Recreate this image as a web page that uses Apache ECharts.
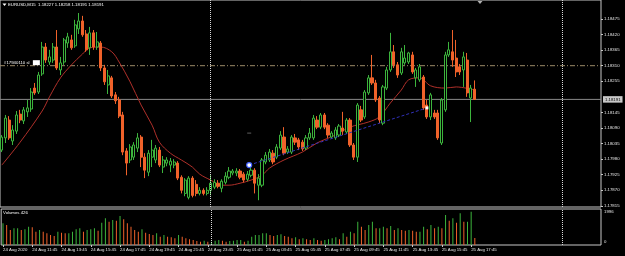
<!DOCTYPE html>
<html><head><meta charset="utf-8">
<script src="https://cdn.jsdelivr.net/npm/echarts@6/dist/echarts.min.js"></script>
<style>html,body{margin:0;padding:0;background:#000;}#c{width:625px;height:256px;}</style>
</head><body><div id="c"></div>
<script>
const symbolName = 'EURUSD,M15';
const opens = [1.18012,1.18055,1.18118,1.18044,1.18079,1.18139,1.18115,1.18147,1.18157,1.18231,
1.18217,1.18281,1.18376,1.18323,1.18330,1.18376,1.18295,1.18323,1.18390,1.18401,
1.18380,1.18440,1.18468,1.18422,1.18373,1.18426,1.18376,1.18390,1.18302,1.18242,
1.18267,1.18207,1.18189,1.18136,1.18009,1.17977,1.17987,1.18019,1.18058,1.17987,
1.17934,1.17987,1.17977,1.18012,1.17952,1.17966,1.17959,1.17959,1.17966,1.17916,
1.17859,1.17845,1.17913,1.17891,1.17859,1.17870,1.17859,1.17870,1.17881,1.17895,
1.17877,1.17898,1.17916,1.17931,1.17931,1.17938,1.17927,1.17909,1.17923,1.17941,
1.17888,1.17888,1.17970,1.17977,1.18001,1.17987,1.18019,1.18058,1.18005,1.18005,
1.18055,1.18048,1.18040,1.18019,1.18055,1.18055,1.18118,1.18093,1.18136,1.18100,
1.18058,1.18055,1.18065,1.18090,1.18076,1.18118,1.18030,1.17987,1.18154,1.18129,
1.18214,1.18267,1.18249,1.18196,1.18107,1.18231,1.18295,1.18359,1.18313,1.18284,
1.18320,1.18323,1.18348,1.18267,1.18260,1.18270,1.18171,1.18129,1.18143,1.18143,
1.18037,1.18154,1.18348,1.18359,1.18337,1.18306,1.18295,1.18330,1.18196,1.18227];
const closes = [1.18058,1.18125,1.18055,1.18083,1.18136,1.18118,1.18154,1.18161,1.18217,1.18214,
1.18277,1.18376,1.18330,1.18341,1.18376,1.18302,1.18320,1.18401,1.18412,1.18373,
1.18454,1.18468,1.18419,1.18366,1.18426,1.18376,1.18394,1.18302,1.18253,1.18274,
1.18203,1.18186,1.18132,1.18005,1.17966,1.18023,1.18030,1.18055,1.17987,1.17941,
1.18001,1.18012,1.18019,1.17959,1.17977,1.17977,1.17973,1.17970,1.17913,1.17870,
1.17906,1.17913,1.17852,1.17859,1.17870,1.17859,1.17870,1.17895,1.17898,1.17884,
1.17902,1.17920,1.17938,1.17938,1.17938,1.17916,1.17906,1.17927,1.17941,1.17895,
1.17913,1.17977,1.17994,1.18005,1.17970,1.18023,1.18065,1.18001,1.18016,1.18058,
1.18040,1.18023,1.18016,1.18055,1.18072,1.18125,1.18093,1.18136,1.18093,1.18065,
1.18072,1.18083,1.18097,1.18079,1.18118,1.18030,1.17987,1.18171,1.18118,1.18217,
1.18267,1.18249,1.18189,1.18118,1.18235,1.18295,1.18359,1.18313,1.18277,1.18359,
1.18337,1.18355,1.18288,1.18295,1.18306,1.18161,1.18129,1.18207,1.18129,1.18055,
1.18189,1.18348,1.18366,1.18330,1.18288,1.18288,1.18341,1.18214,1.18231,1.18191];
const highs = [1.18065,1.18136,1.18132,1.18100,1.18150,1.18154,1.18164,1.18189,1.18231,1.18249,
1.18288,1.18394,1.18390,1.18366,1.18390,1.18436,1.18341,1.18408,1.18426,1.18419,
1.18472,1.18496,1.18486,1.18436,1.18447,1.18436,1.18429,1.18397,1.18313,1.18295,
1.18274,1.18217,1.18200,1.18147,1.18019,1.18033,1.18040,1.18072,1.18065,1.18001,
1.18012,1.18048,1.18030,1.18023,1.17991,1.17987,1.17984,1.17980,1.17973,1.17923,
1.17913,1.17920,1.17920,1.17906,1.17881,1.17877,1.17881,1.17923,1.17909,1.17906,
1.17909,1.17934,1.17952,1.17945,1.17948,1.17945,1.17934,1.17938,1.17952,1.17948,
1.17927,1.17984,1.18005,1.18016,1.18012,1.18033,1.18079,1.18093,1.18026,1.18065,
1.18069,1.18055,1.18048,1.18065,1.18090,1.18136,1.18132,1.18143,1.18143,1.18107,
1.18079,1.18093,1.18104,1.18147,1.18125,1.18125,1.18037,1.18178,1.18168,1.18224,
1.18277,1.18348,1.18260,1.18203,1.18242,1.18306,1.18426,1.18383,1.18323,1.18373,
1.18383,1.18359,1.18359,1.18302,1.18316,1.18277,1.18189,1.18214,1.18154,1.18154,
1.18196,1.18359,1.18394,1.18436,1.18401,1.18316,1.18359,1.18355,1.18242,1.18258];
const lows = [1.18005,1.18037,1.18048,1.18030,1.18069,1.18107,1.18104,1.18129,1.18147,1.18207,
1.18210,1.18274,1.18320,1.18313,1.18320,1.18295,1.18277,1.18313,1.18373,1.18366,
1.18373,1.18422,1.18412,1.18359,1.18348,1.18366,1.18366,1.18291,1.18242,1.18210,
1.18196,1.18175,1.18125,1.17994,1.17923,1.17966,1.17977,1.18005,1.17952,1.17913,
1.17920,1.17952,1.17966,1.17952,1.17931,1.17955,1.17934,1.17948,1.17906,1.17859,
1.17849,1.17838,1.17845,1.17849,1.17852,1.17852,1.17852,1.17852,1.17874,1.17877,
1.17863,1.17891,1.17909,1.17923,1.17920,1.17909,1.17898,1.17902,1.17916,1.17859,
1.17835,1.17881,1.17962,1.17970,1.17962,1.17980,1.18012,1.17994,1.17998,1.17998,
1.18030,1.18012,1.18009,1.18012,1.18048,1.18048,1.18086,1.18086,1.18086,1.18055,
1.18051,1.18048,1.18058,1.18065,1.18069,1.18023,1.17977,1.17970,1.18111,1.18122,
1.18207,1.18242,1.18182,1.18107,1.18100,1.18224,1.18288,1.18302,1.18267,1.18277,
1.18313,1.18316,1.18281,1.18235,1.18253,1.18154,1.18122,1.18118,1.18122,1.18048,
1.18030,1.18147,1.18341,1.18306,1.18270,1.18277,1.18235,1.18200,1.18111,1.18191];
const volumes = [1300,1200,900,1000,1000,900,940,1100,1060,800,
900,800,700,600,540,800,740,700,700,800,
940,1000,800,900,940,1000,860,1340,1600,1400,
1500,1460,1740,1540,1300,1100,900,800,940,740,
660,600,700,500,600,500,460,400,600,500,
400,340,300,240,200,260,200,200,260,300,
260,200,240,260,300,300,200,260,500,600,
600,700,700,600,540,600,640,540,500,400,
460,340,400,340,300,400,300,260,300,340,
400,460,340,700,500,800,700,1400,1100,900,
1200,1400,1000,1000,1100,1000,1140,900,1000,900,
860,900,860,800,800,1100,940,1200,1000,1100,
1000,1800,1460,1600,1340,1900,1400,1400,1996,426];
const maIndex = [0,5,11,13,16,19,22,24,27,30,32,35,38,41,43,46,49,52,54,57,60,62,65,68,71,73,77,82,86,91,95,100,103,106,109,111,114,117,121,124,129];
const maValues = [1.17959,1.18040,1.18150,1.18200,1.18267,1.18313,1.18351,1.18373,1.18376,1.18359,1.18323,1.18253,1.18171,1.18100,1.18040,1.18001,1.17977,1.17952,1.17927,1.17906,1.17888,1.17888,1.17895,1.17906,1.17923,1.17948,1.17977,1.18005,1.18037,1.18065,1.18093,1.18111,1.18129,1.18178,1.18224,1.18260,1.18267,1.18239,1.18231,1.18235,1.18224];
const timeLabels = ['24 Aug 2020','24 Aug 11:45','24 Aug 13:45','24 Aug 15:45','24 Aug 17:45','24 Aug 19:45','24 Aug 21:45','24 Aug 23:45','25 Aug 01:45','25 Aug 03:45','25 Aug 05:45','25 Aug 07:45','25 Aug 09:45','25 Aug 11:45','25 Aug 13:45','25 Aug 15:45','25 Aug 17:45'];
const priceTicks = [1.17815,1.17870,1.17925,1.17980,1.18035,1.18090,1.18145,1.18255,1.18310,1.18365,1.18420,1.18475];
const volumeTicks = [0, 1996];
const slPrice = 1.18310;
const slLabel = '#17940110 sl';
const tradeIndex = [67.5, 116];
const tradePrice = [1.17959, 1.18161];
const tradeMarkPrice = 1.18072;
const daySeparators = [57, 153];
const totalSlots = 164;

const FONT = 'Liberation Sans';
const FS = 4.3;
const GREEN = '#3cb43c', RED = '#f0622a';
const n = opens.length;
const cats = Array.from({length: totalSlots}, (_, i) => String(i));
const candleData = opens.map((o, i) => [o, closes[i], lows[i], highs[i]]);
const volData = volumes.map((v, i) => ({value: v, itemStyle: {color: (i === 0 || v >= volumes[i - 1]) ? GREEN : RED}}));
const maData = maIndex.map((ix, k) => [ix, maValues[k]]);
const last = n - 1;
const bid = closes[last];
const xLo = -0.5, xHi = totalSlots - 0.5;
const header = symbolName + '  ' + [opens[last], highs[last], lows[last], closes[last]].map(v => v.toFixed(5)).join(' ');
const sepLine = {silent: true, symbol: ['none', 'none'], animation: false,
  lineStyle: {color: '#d8d8d8', type: [1, 1], width: 1}, label: {show: false},
  data: daySeparators.map(d => ({xAxis: d}))};

const chart = echarts.init(document.getElementById('c'), null, {renderer: 'canvas'});
chart.setOption({
  backgroundColor: '#000',
  animation: false,
  grid: [
    {left: -1, top: 0, width: 602, height: 207, show: true, borderColor: '#c8c8c8', borderWidth: 1, backgroundColor: '#000'},
    {left: -1, top: 209, width: 602, height: 36, show: true, borderColor: '#c8c8c8', borderWidth: 1, backgroundColor: '#000'}
  ],
  xAxis: [
    {type: 'category', gridIndex: 0, data: cats, boundaryGap: true, axisLine: {show: false, onZero: false}, axisTick: {show: false}, axisLabel: {show: false}, splitLine: {show: false}},
    {type: 'category', gridIndex: 1, data: cats, boundaryGap: true, axisLine: {show: false, onZero: false},
      axisTick: {show: true, alignWithLabel: true, length: 2, lineStyle: {color: '#c8c8c8'}, interval: (i) => i % 8 === 0 && i / 8 < timeLabels.length},
      axisLabel: {show: true, color: '#e6e6e6', fontSize: FS, fontFamily: FONT, align: 'left', margin: 3,
        interval: (i) => i % 8 === 0 && i / 8 < timeLabels.length,
        formatter: (v, i) => timeLabels[Math.round(i / 8)] || ''},
      splitLine: {show: false}},
    {type: 'value', gridIndex: 0, min: xLo, max: xHi, show: false, axisLine: {onZero: false}, splitLine: {show: false}}
  ],
  yAxis: [
    {type: 'value', gridIndex: 0, position: 'right', min: 1.17811, max: 1.18542, scale: true,
      axisLine: {show: false, onZero: false}, splitLine: {show: false},
      axisTick: {show: true, length: 2, lineStyle: {color: '#c8c8c8'}, customValues: priceTicks},
      axisLabel: {show: true, color: '#e6e6e6', fontSize: FS, fontFamily: FONT, margin: 3, customValues: priceTicks,
        formatter: (v) => Number(v).toFixed(5)}},
    {type: 'value', gridIndex: 1, position: 'right', min: 0, max: 2160,
      axisLine: {show: false, onZero: false}, splitLine: {show: false}, axisTick: {show: false},
      axisLabel: {show: true, color: '#e6e6e6', fontSize: FS, fontFamily: FONT, margin: 3, customValues: volumeTicks,
        formatter: (v) => v === 0 ? '{b|0}' : '{t|' + v + '}',
        rich: {b: {fontSize: FS, fontFamily: FONT, color: '#e6e6e6', padding: [0, 0, 6, 0]}, t: {fontSize: FS, fontFamily: FONT, color: '#e6e6e6'}}}}
  ],
  series: [
    {type: 'candlestick', xAxisIndex: 0, yAxisIndex: 0, data: [], markLine: sepLine},
    {type: 'line', xAxisIndex: 2, yAxisIndex: 0, silent: true, z: 1, showSymbol: false,
      data: [[xLo, bid], [xHi, bid]], lineStyle: {color: '#8a8a8a', width: 1},
      endLabel: {show: true, distance: 2, formatter: () => bid.toFixed(5),
        backgroundColor: '#c8c8c8', color: '#000', fontSize: FS, fontFamily: FONT, padding: [1.5, 2, 1, 2]}},
    {type: 'line', xAxisIndex: 2, yAxisIndex: 0, silent: true, z: 1,
      data: [
        {value: [xLo, slPrice], symbol: 'circle', symbolSize: 0.1,
          label: {show: true, position: 'right', distance: 4, offset: [0, -3], formatter: '{t|' + slLabel + '} {w|}',
            rich: {t: {color: '#ffffff', fontSize: FS, fontFamily: FONT}, w: {backgroundColor: '#ffffff', width: 7, height: 5}}}},
        {value: [xHi, slPrice], symbol: 'none'}
      ],
      showSymbol: true, itemStyle: {color: 'rgba(0,0,0,0)'},
      lineStyle: {color: '#9c8a68', type: [5, 2, 1, 2], width: 1}},
    {type: 'line', xAxisIndex: 2, yAxisIndex: 0, data: maData, smooth: 0.35, showSymbol: false, silent: true, z: 2,
      lineStyle: {color: '#b0302a', width: 1}},
    {type: 'candlestick', xAxisIndex: 0, yAxisIndex: 0, data: candleData, barWidth: 2.6, z: 3,
      itemStyle: {color: '#000', color0: RED, borderColor: GREEN, borderColor0: RED, borderWidth: 1}},
    {type: 'line', xAxisIndex: 2, yAxisIndex: 0, silent: true, z: 4,
      data: [
        {value: [tradeIndex[0], tradePrice[0]], symbol: 'circle', symbolSize: 5, itemStyle: {color: '#ffffff', borderColor: '#4060ff', borderWidth: 1.2}},
        {value: [tradeIndex[1], tradePrice[1]], symbol: 'rect', symbolSize: 3, itemStyle: {color: '#ffffff'}}
      ],
      showSymbol: true, showAllSymbol: true, lineStyle: {color: '#3030b8', width: 1, type: [3, 2]}},
    {type: 'scatter', xAxisIndex: 2, yAxisIndex: 0, silent: true, data: [[tradeIndex[0], tradeMarkPrice]],
      symbol: 'rect', symbolSize: [4, 1], itemStyle: {color: '#777'}},
    {type: 'bar', xAxisIndex: 1, yAxisIndex: 1, data: volData, barWidth: 1, silent: true, markLine: sepLine}
  ],
  graphic: [
    {type: 'polygon', shape: {points: [[2.5, 3.5], [6.5, 3.5], [4.5, 6]]}, style: {fill: '#ffffff'}},
    {type: 'text', x: 8, y: 2.5, style: {text: header, fill: '#ffffff', fontSize: FS, fontFamily: FONT}},
    {type: 'polygon', shape: {points: [[477.5, 1], [482.5, 1], [480, 4]]}, style: {fill: '#b0b0b0'}},
    {type: 'text', x: 3, y: 211, style: {text: 'Volumes ' + volumes[last], fill: '#ffffff', fontSize: FS, fontFamily: FONT}}
  ]
});
</script>
</body></html>
